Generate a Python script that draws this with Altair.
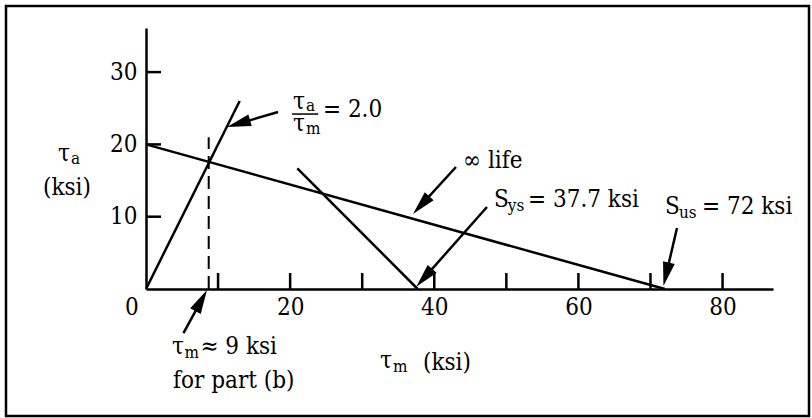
import math
import altair as alt
import pandas as pd

FONT = "DejaVu Serif Condensed"
W, H = 627, 261                     # plot area in px
X_MAX, Y_MAX = 87, 36.1             # axis extents (ksi)
PX_X, PX_Y = W / X_MAX, H / Y_MAX   # px per ksi on each axis
LW = 2.5
FS, SS = 24, 17                     # main and subscript font sizes

# Design lines in the (tau_m, tau_a) plane, ksi
goodman_tm, goodman_ta = [0, 72], [20, 0]        # infinite-life line to S_us
ratio_tm, ratio_ta = [0, 13], [0, 26]            # load line tau_a / tau_m = 2
yield_tm, yield_ta = [21, 37.7], [16.7, 0]       # first-cycle yield line to S_ys
partb_tm, partb_ta = [8.7, 8.7], [0, 21]         # operating point for part (b)

x_ticks = [10, 20, 30, 40, 50, 60, 70, 80]
y_ticks = [10, 20, 30]
x_labels = [20, 40, 60, 80]
y_labels = [10, 20, 30]

# Annotation text pieces: string, left x, baseline y (ksi), font size
txt = ["τ", "a", "(ksi)",
       "τ", "a", "τ", "m", "= 2.0",
       "∞ life",
       "S", "ys", "= 37.7 ksi",
       "S", "us", "= 72 ksi",
       "τ", "m", "≈ 9 ksi", "for part (b)",
       "τ", "m", "(ksi)",
       "0"]
txt_x = [-12.21, -10.41, -14.29,
         20.40, 22.20, 20.40, 22.20, 24.55,
         43.99,
         48.29, 50.20, 53.00,
         72.01, 73.95, 77.15,
         3.61, 5.35, 7.55, 3.75,
         32.47, 34.27, 38.43,
         -2.91]
txt_y = [17.70, 17.29, 13.00,
         24.90, 24.62, 21.85, 21.44, 23.79,
         16.74,
         11.34, 10.79, 11.34,
         10.37, 9.82, 10.37,
         -8.99, -9.54, -8.99, -13.69,
         -10.93, -11.48, -11.20,
         -3.60]
txt_size = [FS, SS, FS,
            FS, SS, FS, SS, FS,
            FS,
            FS, SS, FS,
            FS, SS, FS,
            FS, SS, FS, FS,
            FS, SS, FS,
            FS]

# fraction bar of tau_a / tau_m
bar_x, bar_x2, bar_y = [20.26], [23.90], [24.20]

# Leader arrows: tail -> tip (ksi)
arr_tail_x = [18.32, 43.01, 47.31, 73.68, 5.20]
arr_tail_y = [24.48, 16.87, 11.34, 8.44, -6.09]
arr_tip_x = [11.24, 37.05, 37.50, 71.80, 8.46]
arr_tip_y = [22.41, 10.37, 0.30, 0.40, -0.14]

HEAD = "M0,0 L-0.5,2 L0.5,2 Z"   # arrowhead, tip at origin, pointing up
HEAD_SIZE = 576                 # 24 px long, 12 px wide

xs = alt.Scale(domain=[0, X_MAX], nice=False, zero=False)
ys = alt.Scale(domain=[0, Y_MAX], nice=False, zero=False)
x_axis = alt.Axis(values=x_labels, ticks=False, tickSize=0, grid=False, title=None,
                  domainColor="black", domainWidth=LW, labelFont=FONT,
                  labelFontSize=FS, labelColor="black", labelPadding=6,
                  labelAngle=0, labelFlush=False, labelOverlap=False)
y_axis = alt.Axis(values=y_labels, ticks=False, tickSize=0, grid=False, title=None,
                  domainColor="black", domainWidth=LW, labelFont=FONT,
                  labelFontSize=FS, labelColor="black", labelPadding=9,
                  labelFlush=False, labelOverlap=False)


def X(field):
    return alt.X(field, type="quantitative", scale=xs, axis=x_axis)


def Y(field):
    return alt.Y(field, type="quantitative", scale=ys, axis=y_axis)


solid = pd.DataFrame({
    "tm": goodman_tm + ratio_tm + yield_tm,
    "ta": goodman_ta + ratio_ta + yield_ta,
    "line": ["goodman"] * 2 + ["ratio"] * 2 + ["yield"] * 2,
})
dashed = pd.DataFrame({"tm": partb_tm, "ta": partb_ta})

lines = alt.Chart(solid).mark_line(color="black", strokeWidth=LW).encode(
    x=X("tm"), y=Y("ta"), detail="line:N")
dash = alt.Chart(dashed).mark_line(color="black", strokeWidth=2,
                                   strokeDash=[13, 7]).encode(x=X("tm"), y=Y("ta"))

xt = alt.Chart(pd.DataFrame({"v": x_ticks})).mark_rule(
    color="black", strokeWidth=LW).encode(
    x=X("v"), y=alt.value(H), y2=alt.value(H - 16))
yt = alt.Chart(pd.DataFrame({"v": y_ticks})).mark_rule(
    color="black", strokeWidth=LW).encode(
    y=Y("v"), x=alt.value(0), x2=alt.value(15))

labels = alt.Chart(pd.DataFrame({
    "t": txt, "x": txt_x, "y": txt_y, "s": txt_size})).mark_text(
    font=FONT, align="left", baseline="alphabetic", color="black").encode(
    x=X("x"), y=Y("y"), text="t:N", size=alt.Size("s:Q", scale=None))

bar = alt.Chart(pd.DataFrame({"x": bar_x, "x2": bar_x2, "y": bar_y})).mark_rule(
    color="black", strokeWidth=1.5).encode(x=X("x"), x2="x2", y=Y("y"))

# arrow shafts stop short of the tip so the head covers the end cleanly
rows = []
for tx, ty, hx, hy in zip(arr_tail_x, arr_tail_y, arr_tip_x, arr_tip_y):
    dxp, dyp = (hx - tx) * PX_X, (hy - ty) * PX_Y
    L = math.hypot(dxp, dyp)
    back = 12.0
    ex = hx - dxp / L * back / PX_X
    ey = hy - dyp / L * back / PX_Y
    ang = math.degrees(math.atan2(dxp, dyp)) % 360
    rows.append({"tx": tx, "ty": ty, "ex": ex, "ey": ey,
                 "hx": hx, "hy": hy, "ang": ang})
arr = pd.DataFrame(rows)

shafts = alt.Chart(arr).mark_rule(color="black", strokeWidth=LW).encode(
    x=X("tx"), y=Y("ty"), x2="ex", y2="ey")
heads = alt.Chart(arr).mark_point(
    shape=HEAD, filled=True, color="black", opacity=1, strokeWidth=0).encode(
    x=X("hx"), y=Y("hy"), angle=alt.Angle("ang:Q", scale=None),
    size=alt.value(HEAD_SIZE))

frame = alt.Chart(pd.DataFrame({"k": [0]})).mark_rect(
    fillOpacity=0, stroke="black", strokeWidth=2.5).encode(
    x=alt.value(6 - 146), x2=alt.value(809 - 146),
    y=alt.value(6 - 28), y2=alt.value(416 - 28))

chart = alt.layer(lines, dash, xt, yt, bar, shafts, heads, labels, frame).properties(
    width=W, height=H,
    autosize=alt.AutoSizeParams(type="none"),
    padding=alt.Padding(left=146, top=28, right=39, bottom=129),
    background="white",
).configure_view(stroke=None)

chart.save("out.html", embed_options={"renderer": "svg", "actions": False})
